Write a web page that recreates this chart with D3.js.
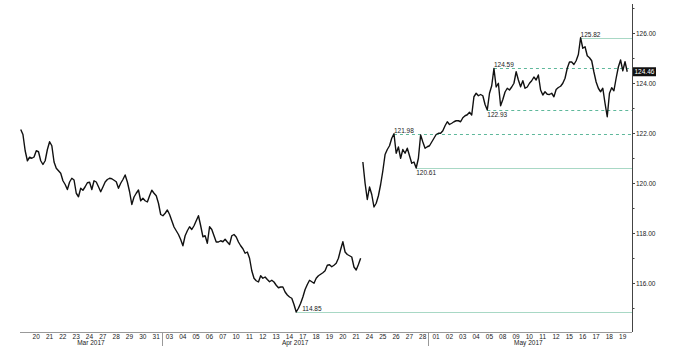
<!DOCTYPE html>
<html>
<head>
<meta charset="utf-8">
<script src="https://cdn.jsdelivr.net/npm/d3@7"></script>
<style>
    body { margin: 0; background: #fff; }
    #chart text { font-family: "Liberation Sans", Arial, sans-serif; font-size: 6.5px; fill: #1a1a1a; }
    .price { fill: none; stroke: #111; stroke-width: 1.4; stroke-linejoin: round; }
    .level-major { stroke: #a8d8c5; stroke-width: 1; }
    .level-minor { stroke: #5fb89b; stroke-width: 1; stroke-dasharray: 3,3; }
    .axis-line { stroke: #444; stroke-width: 1; }
    .date-line { stroke: #999; stroke-width: 1; }
    #chart text.last-label { fill: #fff; }
</style>
</head>
<body>
<svg id="chart" width="675" height="352"></svg>
<script>
// trading days shown on the chart (weekends are skipped)
const tradingDays = [
    "2017-03-17", "2017-03-20", "2017-03-21", "2017-03-22", "2017-03-23", "2017-03-24",
    "2017-03-27", "2017-03-28", "2017-03-29", "2017-03-30", "2017-03-31",
    "2017-04-03", "2017-04-04", "2017-04-05", "2017-04-06", "2017-04-07",
    "2017-04-10", "2017-04-11", "2017-04-12", "2017-04-13", "2017-04-14",
    "2017-04-17", "2017-04-18", "2017-04-19", "2017-04-20", "2017-04-21",
    "2017-04-24", "2017-04-25", "2017-04-26", "2017-04-27", "2017-04-28",
    "2017-05-01", "2017-05-02", "2017-05-03", "2017-05-04", "2017-05-05",
    "2017-05-08", "2017-05-09", "2017-05-10", "2017-05-11", "2017-05-12",
    "2017-05-15", "2017-05-16", "2017-05-17", "2017-05-18", "2017-05-19"
];

// 4-hour closes per day
const marchPrices = [
    [null, null, 122.15, 121.95, 121.3, 120.9],
    [121.04, 121.0, 121.05, 121.3, 121.26, 120.9],
    [120.75, 120.9, 121.35, 121.66, 121.5, 120.85],
    [120.6, 120.5, 120.4, 120.1, 119.95, 119.75],
    [120.05, 120.2, 120.13, 119.6, 119.46, 119.8],
    [119.72, 119.86, 120.02, 120.04, 119.75, 120.1],
    [120.05, 119.86, 119.66, 119.85, 120.05, 120.15],
    [120.2, 120.18, 120.12, 120.06, 119.8, 120.0],
    [120.15, 120.33, 120.05, 119.66, 119.15, 119.45],
    [119.6, 119.73, 119.3, 119.4, 119.3, 119.25],
    [119.5, 119.72, 119.6, 119.5, 119.2, 118.75]
];
const aprilPrices = [
    [118.7, 118.8, 118.93, 118.75, 118.5, 118.25],
    [118.1, 117.95, 117.75, 117.5, 117.9, 118.1],
    [118.26, 118.15, 118.3, 118.5, 118.7, 118.3],
    [117.86, 117.9, 117.6, 118.26, 118.15, 117.9],
    [117.65, 117.65, 117.7, 117.66, 117.76, 117.65],
    [117.55, 117.9, 117.95, 117.85, 117.65, 117.5],
    [117.38, 117.2, 117.25, 117.0, 116.5, 116.2],
    [116.1, 116.05, 116.3, 116.2, 116.25, 116.15],
    [116.06, 116.12, 116.05, 115.92, 115.82, 115.85],
    [115.85, 115.65, 115.53, 115.45, 115.4, 115.15],
    [114.85, 115.0, 115.2, 115.45, 115.75, 115.95],
    [116.12, 116.06, 116.0, 116.2, 116.3, 116.36],
    [116.42, 116.5, 116.72, 116.74, 116.66, 116.72],
    [116.8, 117.0, 117.35, 117.66, 117.25, 117.15],
    [117.1, 117.05, 116.65, 116.53, 116.75, 117.0],
    [120.85, 120.0, 119.35, 119.85, 119.55, 119.05],
    [119.2, 119.5, 119.95, 120.5, 121.15, 121.35],
    [121.5, 121.8, 121.98, 121.2, 121.45, 121.0],
    [121.35, 121.2, 121.4, 121.1, 120.8, 120.85],
    [120.61, 121.0, 121.93, 121.65, 121.4, 121.46]
];
const mayPrices = [
    [121.5, 121.65, 121.8, 121.95, 122.0, 122.0],
    [122.1, 122.3, 122.46, 122.35, 122.4, 122.46],
    [122.5, 122.5, 122.46, 122.62, 122.7, 122.74],
    [122.84, 122.73, 123.46, 123.6, 123.5, 123.55],
    [123.5, 123.15, 122.93, 123.6, 123.9, 124.59],
    [123.85, 124.0, 123.1, 123.35, 123.65, 123.8],
    [123.73, 123.85, 124.0, 124.46, 124.13, 123.86],
    [124.1, 123.8, 123.85, 124.0, 124.1, 124.25],
    [124.13, 124.33, 123.73, 123.53, 123.66, 123.56],
    [123.55, 123.6, 123.46, 123.75, 123.83, 123.88],
    [124.0, 124.2, 124.6, 124.85, 124.85, 124.75],
    [124.9, 125.15, 125.82, 125.4, 125.46, 125.1],
    [125.02, 124.9, 124.45, 124.05, 123.8, 123.66],
    [123.8, 123.2, 122.66, 123.6, 123.82, 123.7],
    [124.2, 124.65, 124.93, 124.5, 124.86, 124.46]
];

// the line is broken where the market gapped over a weekend
const gapDays = ["2017-04-24"];

// marked highs / lows
const levelValues = [125.82, 124.59, 122.93, 121.98, 120.61, 114.85];
const levelMajor = [true, false, false, false, true, true];

const lastPrice = 124.46;
const yTicks = [116, 118, 120, 122, 124, 126];
const yMinorTicks = [115, 117, 119, 121, 123, 125, 127];

/** Class drawing the price chart. */
class PriceChart {
    constructor() {
        this.svg = d3.select('#chart');
        this.left = 20;
        this.right = 632;
        this.top = 4;
        this.bottom = 332;
        this.x = d3.scaleLinear().domain([0, tradingDays.length]).range([15.17, 628.35]);
        this.y = d3.scaleLinear().domain([114.05, 127.17]).range([this.bottom, this.top]);
        this.parse = d3.timeParse('%Y-%m-%d');
        this.points = this.buildPoints();
    }

    /**
     * Flattens the daily closes into one series, position = trading day index
     */
    buildPoints() {
        var prices = marchPrices.concat(aprilPrices, mayPrices);
        var points = [];
        prices.forEach((day, i) => {
            if (gapDays.indexOf(tradingDays[i]) >= 0) points.push(null);
            day.forEach((p, j) => {
                points.push(p === null ? null : {t: i + (j + 0.5) / day.length, v: p});
            });
        });
        return points;
    }

    drawAxes() {
        var svg = this.svg;
        var x = this.x, y = this.y;

        // right price axis
        svg.append('line').attr('class', 'axis-line')
            .attr('x1', this.right + 0.5).attr('x2', this.right + 0.5)
            .attr('y1', this.top).attr('y2', this.bottom);

        svg.selectAll('.minor').data(yMinorTicks).enter().append('line')
            .attr('class', 'axis-line minor')
            .attr('x1', this.right).attr('x2', this.right + 2.5)
            .attr('y1', d => Math.round(y(d)) + 0.5).attr('y2', d => Math.round(y(d)) + 0.5);

        var ticks = svg.selectAll('.ytick').data(yTicks).enter().append('g')
            .attr('class', 'ytick')
            .attr('transform', d => 'translate(' + this.right + ',' + (Math.round(y(d)) + 0.5) + ')');
        ticks.append('line').attr('class', 'axis-line').attr('x1', 0).attr('x2', 3);
        ticks.append('text').attr('x', 4).attr('dy', '0.35em').text(d3.format('.2f'));

        // bottom date axis
        svg.append('line').attr('class', 'date-line')
            .attr('x1', this.left).attr('x2', this.right)
            .attr('y1', this.bottom + 0.5).attr('y2', this.bottom + 0.5);

        var fmtDay = d3.timeFormat('%d');
        var shown = tradingDays.map((d, i) => ({date: this.parse(d), i: i}))
            .filter(d => x(d.i) >= this.left);
        svg.selectAll('.xlabel').data(shown).enter().append('text')
            .attr('class', 'xlabel')
            .attr('x', d => x(d.i + 0.5) + 1)
            .attr('y', this.bottom + 6.5)
            .attr('text-anchor', 'middle')
            .text(d => fmtDay(d.date));

        // month labels and separators
        var fmtMonth = d3.timeFormat('%b %Y');
        var months = d3.groups(tradingDays.map((d, i) => ({date: this.parse(d), i: i})),
            d => fmtMonth(d.date));
        months.forEach((m, k) => {
            var first = m[1][0].i;
            var last = m[1][m[1].length - 1].i;
            var x0 = Math.max(x(first), this.left);
            var x1 = Math.min(x(last + 1), this.right);
            svg.append('text')
                .attr('x', (x0 + x1) / 2)
                .attr('y', this.bottom + 13)
                .attr('text-anchor', 'middle')
                .text(m[0]);
            if (k > 0) {
                svg.append('line').attr('class', 'date-line')
                    .attr('x1', Math.round(x(first)) + 0.5).attr('x2', Math.round(x(first)) + 0.5)
                    .attr('y1', this.bottom).attr('y2', this.bottom + 14);
            }
        });
    }

    drawLevels() {
        var svg = this.svg;
        var valid = this.points.filter(p => p !== null);
        var lowest = d3.min(valid, p => p.v);

        levelValues.forEach((level, k) => {
            var idx = valid.findIndex(p => p.v === level);
            var p = valid[idx];
            var px = this.x(p.t);
            var py = Math.round(this.y(level)) + 0.5;
            var prev = valid[Math.max(idx - 1, 0)].v;
            var next = valid[Math.min(idx + 1, valid.length - 1)].v;
            var isHigh = level >= (prev + next) / 2;

            svg.append('line')
                .attr('class', levelMajor[k] ? 'level-major' : 'level-minor')
                .attr('x1', px).attr('x2', this.right)
                .attr('y1', py).attr('y2', py);

            var label = svg.append('text').text(d3.format('.2f')(level));
            if (level === lowest) {
                label.attr('x', px + 6).attr('y', py - 1.5);
            } else if (isHigh) {
                label.attr('x', px).attr('y', py - 1.5);
            } else {
                label.attr('x', px).attr('y', py + 6);
            }
        });
    }

    drawPrice() {
        var line = d3.line()
            .defined(d => d !== null)
            .x(d => this.x(d.t))
            .y(d => this.y(d.v));

        this.svg.append('path')
            .datum(this.points)
            .attr('class', 'price')
            .attr('d', line);

        // last price marker on the axis
        var ly = this.y(lastPrice);
        this.svg.append('rect')
            .attr('x', this.right + 1).attr('y', ly - 4.5)
            .attr('width', 23).attr('height', 9)
            .attr('fill', '#111');
        this.svg.append('text')
            .attr('class', 'last-label')
            .attr('x', this.right + 2.5).attr('y', ly)
            .attr('dy', '0.35em')
            .text(d3.format('.2f')(lastPrice));
    }
}

var chart = new PriceChart();
chart.drawLevels();
chart.drawPrice();
chart.drawAxes();
</script>
</body>
</html>
